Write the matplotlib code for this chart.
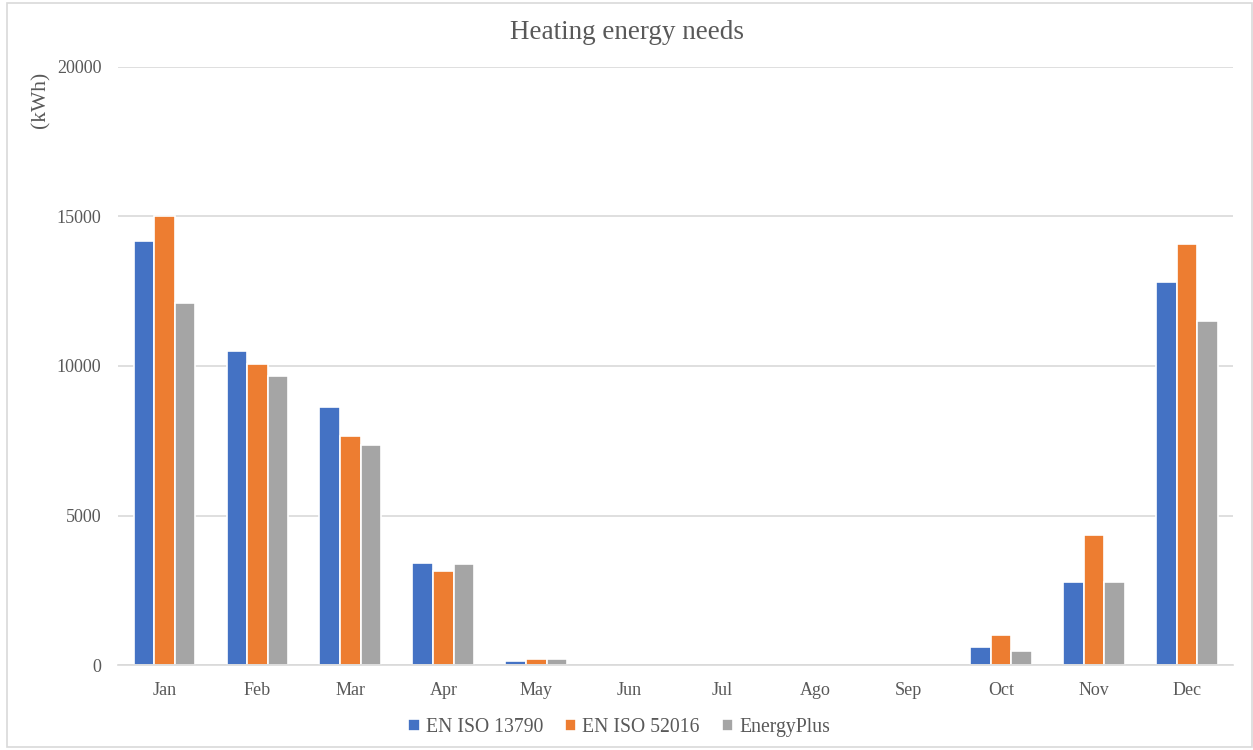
import matplotlib.pyplot as plt
import numpy as np
from matplotlib.patches import Rectangle

months = ['Jan', 'Feb', 'Mar', 'Apr', 'May', 'Jun', 'Jul', 'Ago', 'Sep', 'Oct', 'Nov', 'Dec']
iso13790 = [14180, 10500, 8630, 3420, 130, 0, 0, 0, 0, 590, 2790, 12800]
iso52016 = [15015, 10065, 7660, 3130, 190, 0, 0, 0, 0, 1000, 4350, 14080]
energyplus = [12105, 9665, 7355, 3370, 190, 0, 0, 0, 0, 470, 2790, 11510]
series = ['EN ISO 13790', 'EN ISO 52016', 'EnergyPlus']
colors = ['#4472C4', '#ED7D31', '#A5A5A5']

plt.rcParams['font.family'] = ['Liberation Serif', 'DejaVu Serif']
txt = '#595959'

fig = plt.figure(figsize=(12.53, 7.5), dpi=100)
ax = fig.add_axes([0.0942, 0.1133, 0.8902, 0.7974])

x = np.arange(len(months))
w = 0.222
for i, (vals, name, c) in enumerate(zip([iso13790, iso52016, energyplus], series, colors)):
    lw = [1.2 if v > 0 else 0 for v in vals]
    ax.bar(x + (i - 1) * w, vals, width=w, color=c, edgecolor='white', linewidth=lw,
           label=name, zorder=3)

ax.set_xlim(-0.5, len(months) - 0.5)
ax.set_ylim(0, 20000)
ax.set_yticks([0, 5000, 10000, 15000, 20000])
ax.set_xticks(x)
ax.set_xticklabels(months)
ax.tick_params(axis='both', length=0, labelsize=13, colors=txt)
ax.tick_params(axis='x', pad=12)
ax.tick_params(axis='y', pad=12)
ax.grid(axis='y', color='#d9d9d9', linewidth=1.2, zorder=0)
for s in ['top', 'right', 'left']:
    ax.spines[s].set_visible(False)
ax.spines['bottom'].set_color('#d9d9d9')
ax.spines['bottom'].set_linewidth(1.2)
ax.spines['bottom'].set_zorder(4)

fig.text(0.5, 0.957, 'Heating energy needs', ha='center', va='center', fontsize=19.5, color=txt)
fig.text(0.033, 0.867, '(kWh)', rotation=90, ha='center', va='center', fontsize=15.5, color=txt)

leg = fig.legend(loc='center', bbox_to_anchor=(0.494, 0.03), ncol=3, frameon=False,
                 prop={'family': 'Liberation Serif', 'size': 14.2},
                 handlelength=0.6, handleheight=0.6, handletextpad=0.3,
                 columnspacing=1.1)
for t in leg.get_texts():
    t.set_color(txt)

fig.patches.append(Rectangle((0.0056, 0.004), 0.9935, 0.992, transform=fig.transFigure,
                             fill=False, edgecolor='#d9d9d9', linewidth=1.2))

fig.savefig('out.png', dpi=100)
